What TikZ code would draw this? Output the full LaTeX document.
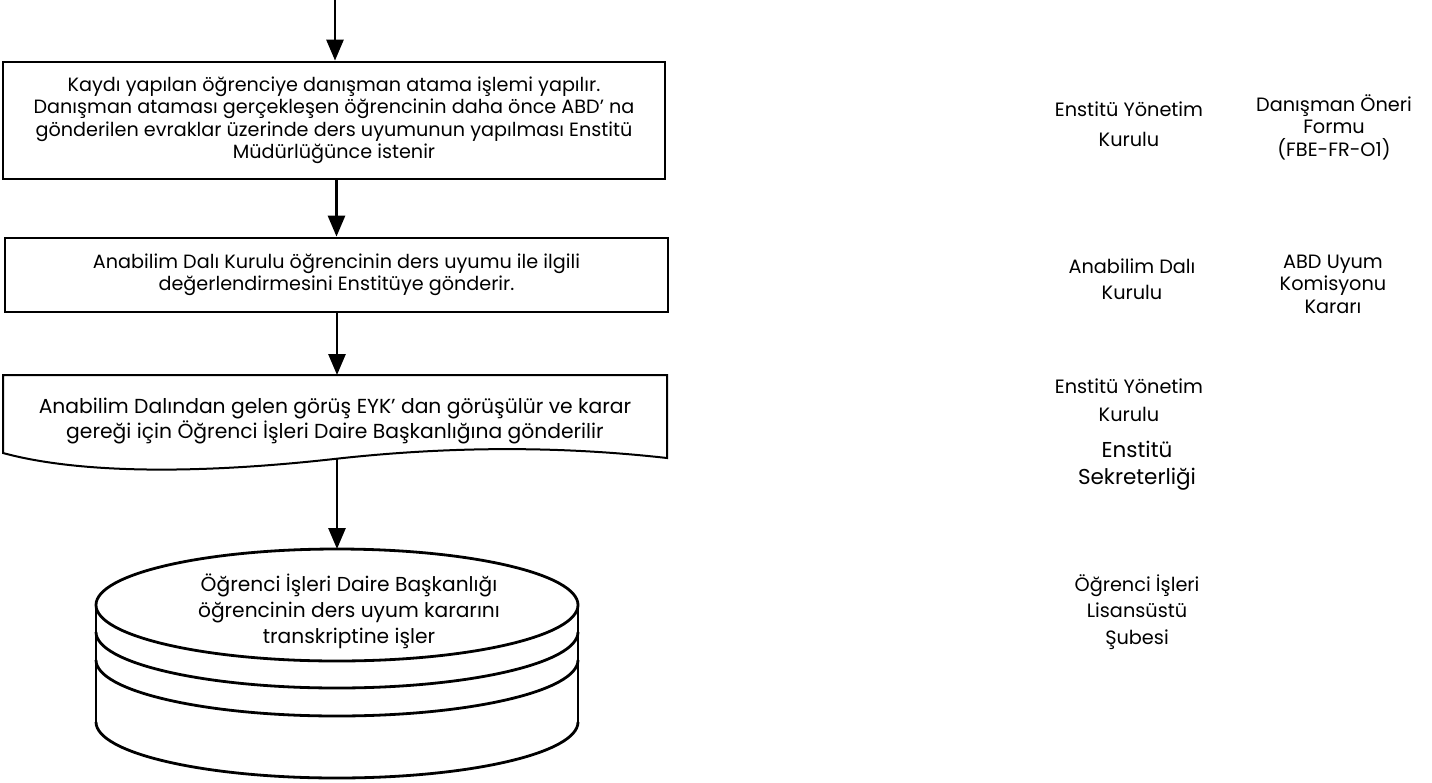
\documentclass[tikz,border=0pt]{standalone}
\usepackage{fontspec}
\setmainfont{Poppins}
\usetikzlibrary{arrows.meta}
\newcommand\fsmain{\fontsize{19.2}{22.5}\selectfont}
\newcommand\fsside{\fontsize{19.3}{22.5}\selectfont}
\newcommand\fsdoc{\fontsize{20.3}{22}\selectfont}
\newcommand\fscyl{\fontsize{20.2}{26}\selectfont}
\begin{document}
\begin{tikzpicture}[x=1pt,y=-1pt,
  box/.style={draw, line width=2.8pt, inner sep=0pt, align=center, font=\fsmain},
  arr/.style={line width=2.8pt, -{Triangle[width=17pt,length=21pt]}},
  lbl/.style={align=center, font=\fsside, inner sep=0pt},
  shp/.style={line width=2.8pt}]
\useasboundingbox (0,0) rectangle (1432,782);
% top arrow
\coordinate (start) at (335,0);
\node[box, minimum width=662pt, minimum height=117pt] (b1) at (334,120.5)
  {Kaydı yapılan öğrenciye danışman atama işlemi yapılır.\\
   Danışman ataması gerçekleşen öğrencinin daha önce ABD' na\\
   gönderilen evraklar üzerinde ders uyumunun yapılması Enstitü\\
   Müdürlüğünce istenir};
\draw[arr] (start) -- (b1.north -| start);
\node[box, minimum width=663pt, minimum height=74pt] (b2) at (336.5,275)
  {Anabilim Dalı Kurulu öğrencinin ders uyumu ile ilgili\\
   değerlendirmesini Enstitüye gönderir.};
\draw[arr] (b1.south -| b2.north) -- (b2.north);
% document shape
\draw[shp, line width=2pt] (3,375) -- (667,375) -- (667,458)
  .. controls (560,446) and (450,446) .. (334,459)
  .. controls (200,474) and (80,474) .. (3,453) -- cycle;
\coordinate (dtop) at (337,375);
\coordinate (dbot) at (337,459);
\node[lbl, font=\fsdoc] (d) at (335,421)
  {Anabilim Dalından gelen görüş EYK' dan görüşülür ve karar\\
   gereği için Öğrenci İşleri Daire Başkanlığına gönderilir};
\draw[arr] (b2.south -| dtop) -- (dtop);
% cylinder
\coordinate (ctop) at (337,549);
\draw[arr] (dbot) -- (ctop);
\draw[shp] (337,605) ellipse [x radius=241, y radius=56];
\draw[shp] (96,605) -- (96,722);
\draw[shp] (578,605) -- (578,722);
\foreach \cy in {632,660,722}{
  \draw[shp] (96,\cy) .. controls (96,\cy+30.9) and (203.9,\cy+56) .. (337,\cy+56)
    .. controls (470.1,\cy+56) and (578,\cy+30.9) .. (578,\cy);
}
\node[lbl, font=\fscyl] (c) at (349,611)
  {Öğrenci İşleri Daire Başkanlığı\\
   öğrencinin ders uyum kararını\\
   transkriptine işler};
% right column
\node[lbl] (r1) at (1129,124) {Enstitü Yönetim\\[7pt]Kurulu};
\node[lbl] (r2) at (1334,127) {Danışman Öneri\\Formu\\(FBE-FR-O1)};
\node[lbl] (r3) at (1132,279) {Anabilim Dalı\\[4pt]Kurulu};
\node[lbl] (r4) at (1333,284) {ABD Uyum\\Komisyonu\\Kararı};
\node[lbl] (r5) at (1129,400) {Enstitü Yönetim\\[6pt]Kurulu};
\node[lbl, font=\fontsize{21.5}{27}\selectfont] (r6) at (1137,466) {Enstitü\\Sekreterliği};
\node[lbl] (r7) at (1137,612) {Öğrenci İşleri\\[4pt]Lisansüstü\\[4pt]Şubesi};
\end{tikzpicture}
\end{document}
